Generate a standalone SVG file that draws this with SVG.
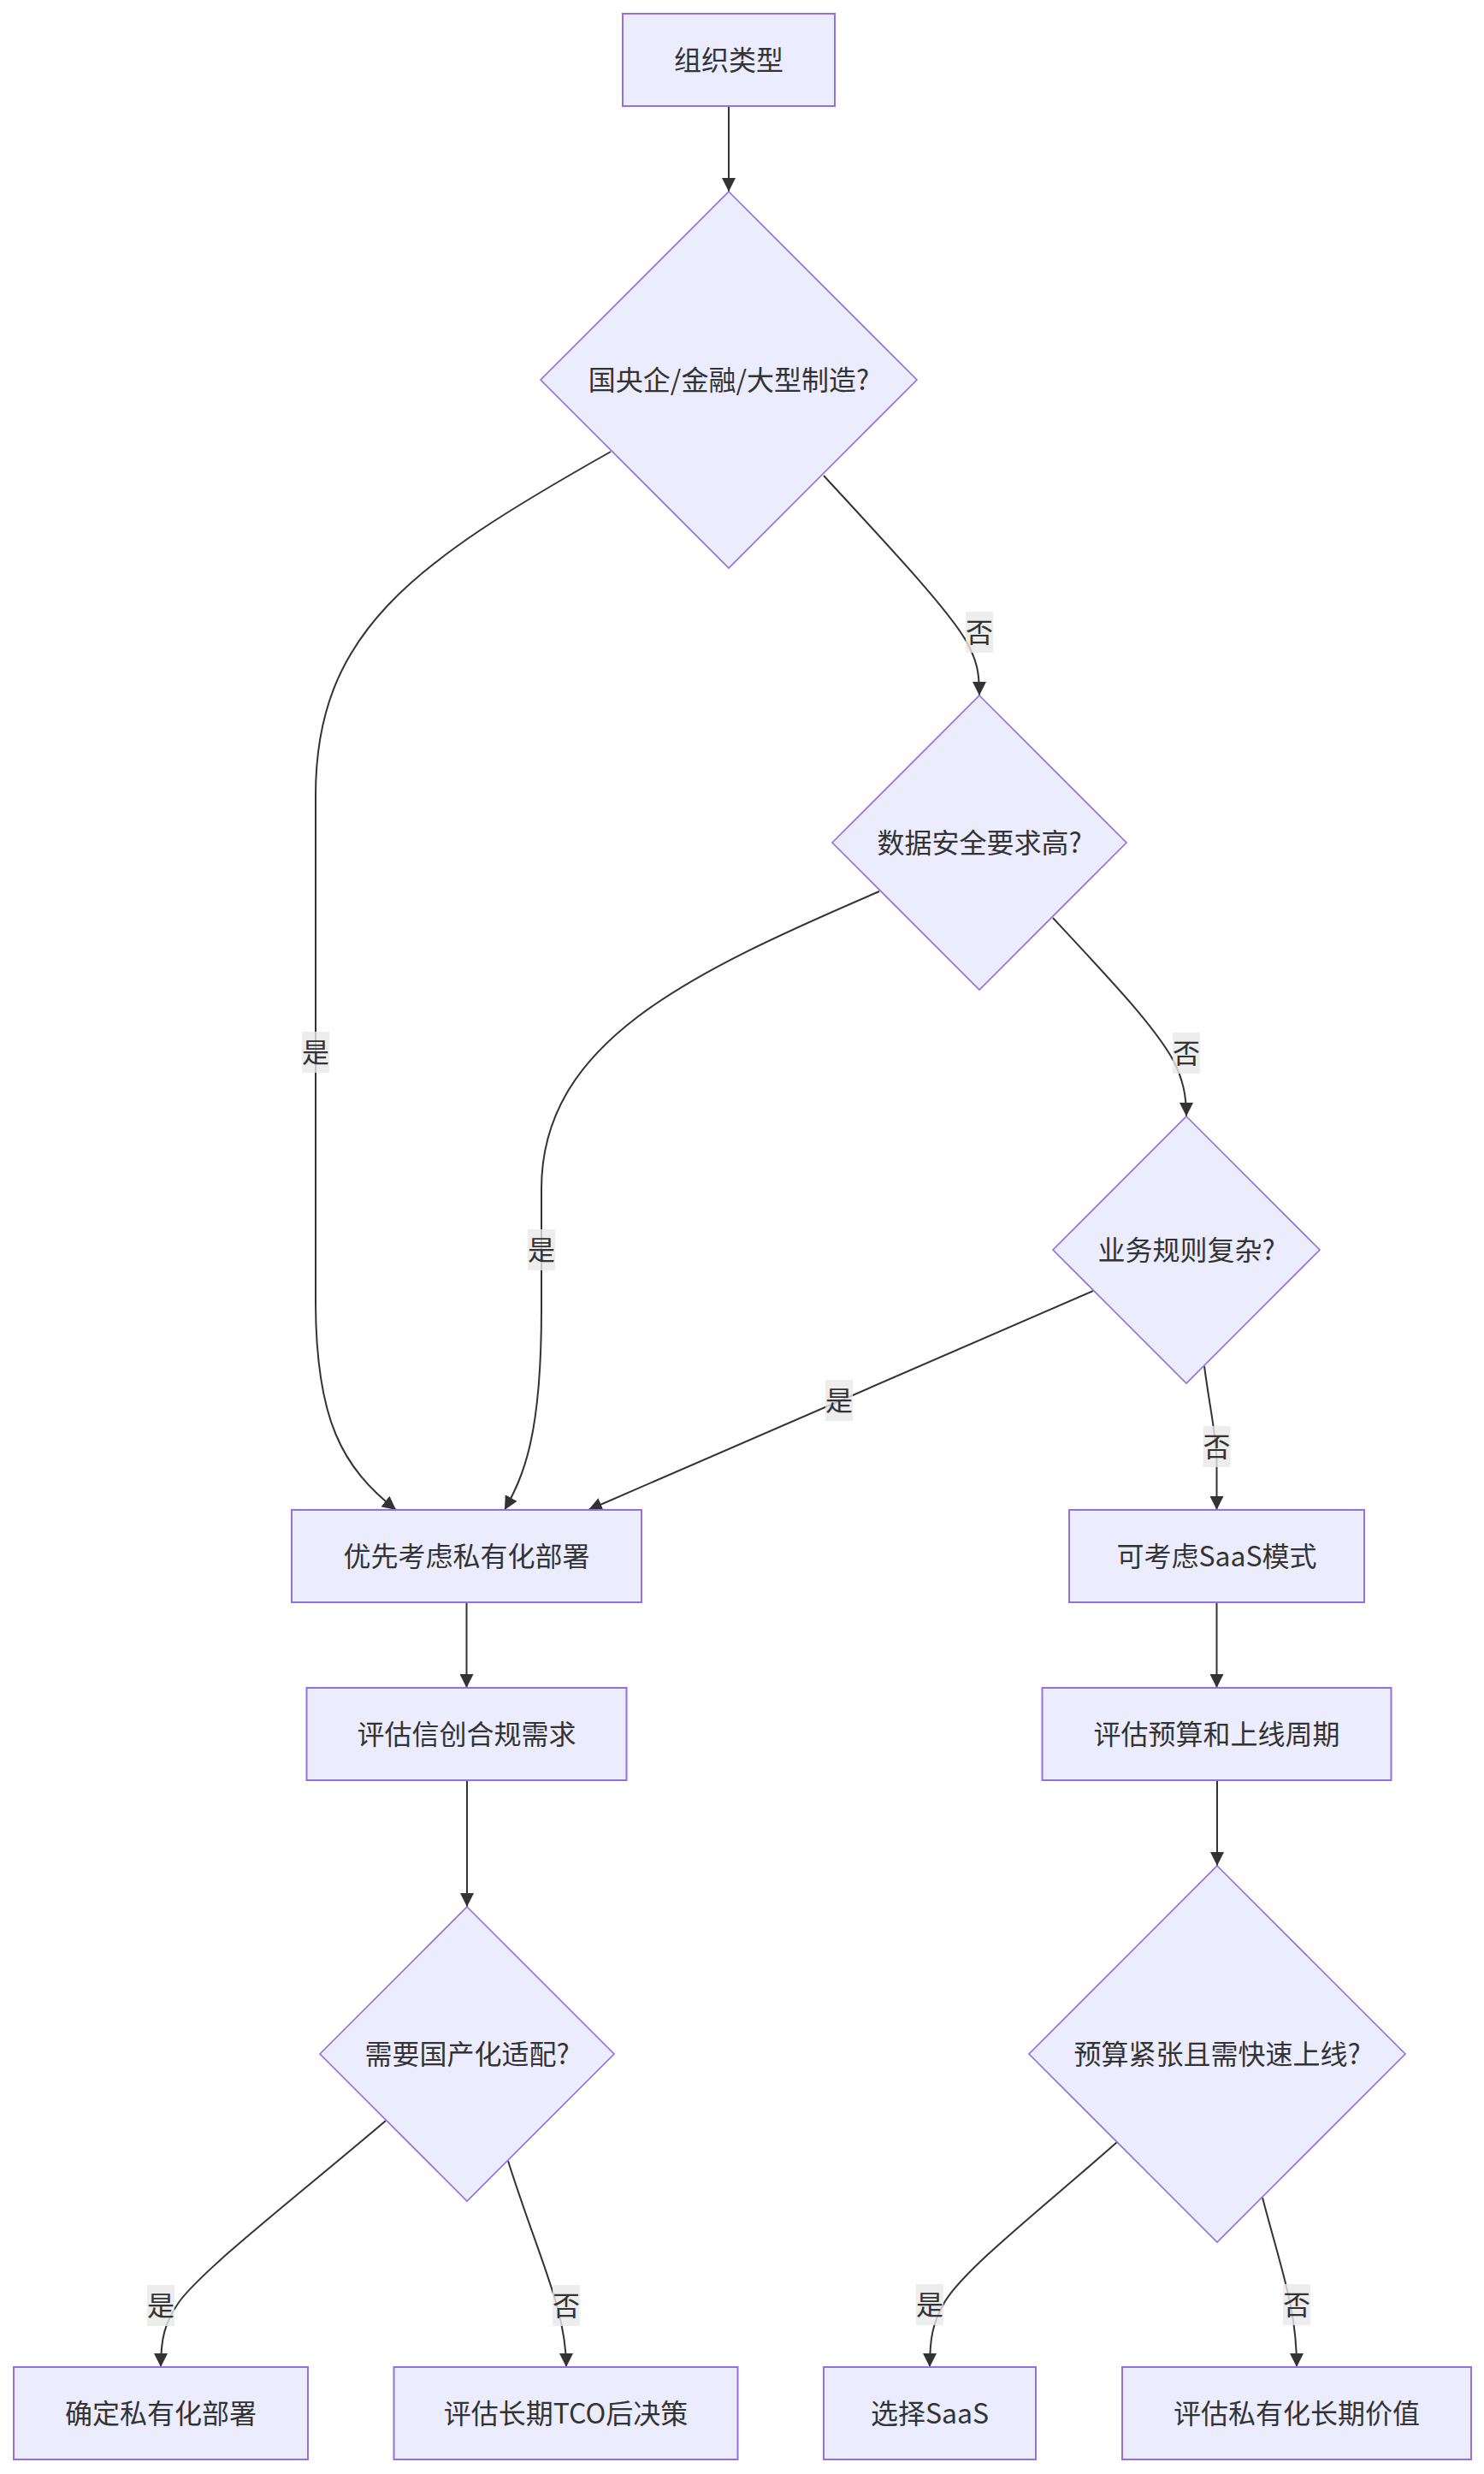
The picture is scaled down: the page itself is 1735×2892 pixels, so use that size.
<svg xmlns="http://www.w3.org/2000/svg" width="1735" height="2892" viewBox="0 0 1735 2892">
<style>
  .node rect, .node polygon { fill: #ECECFF; stroke: #9370DB; }
  .node rect { stroke-width: 2; }
  .node polygon { stroke-width: 1.6; }
  text { font-family: "Noto Sans CJK SC", "Noto Sans", sans-serif; font-size: 32px; fill: #333333; text-anchor: middle; dominant-baseline: central; }
  .edge { fill: none; stroke: #333333; stroke-width: 2; marker-end: url(#arrow); }
  .lbl rect { fill: #e8e8e8; fill-opacity: 0.8; }
</style>
<defs>
  <marker id="arrow" viewBox="0 0 10 10" refX="10" refY="5" markerUnits="userSpaceOnUse" markerWidth="16" markerHeight="16" orient="auto">
    <path d="M0,0 L10,5 L0,10 z" fill="#333333"/>
  </marker>
</defs>
<rect width="1735" height="2892" fill="#ffffff"/>

<g id="edges">
  <path class="edge" d="M852,124 L852,224"/>
  <path class="edge" d="M714,528 C480,660 369,740 369,930 L369,1520 C369,1660 400,1715 463,1765"/>
  <path class="edge" d="M1028,1042 C800,1140 633,1220 633,1390 L633,1530 C633,1680 612,1725 590,1765"/>
  <path class="edge" d="M1278,1509 L688,1765"/>
  <path class="edge" d="M963,556 C1050,650 1110,715 1130,750 C1142,772 1145,785 1145,813"/>
  <path class="edge" d="M1231,1073 C1300,1147 1350,1200 1372,1240 C1383,1262 1387,1280 1387,1305"/>
  <path class="edge" d="M1408,1597 C1415,1650 1422.5,1680 1422.5,1710 L1422.5,1765"/>
  <path class="edge" d="M545.5,1873 L545.5,1973"/>
  <path class="edge" d="M1422.5,1873 L1422.5,1973"/>
  <path class="edge" d="M546,2081 L546,2229"/>
  <path class="edge" d="M1423,2081 L1423,2181"/>
  <path class="edge" d="M451,2479 C350,2565 240,2650 210,2690 C192,2715 188,2735 188,2767"/>
  <path class="edge" d="M594,2526 C630,2640 662,2700 662,2767"/>
  <path class="edge" d="M1306,2504 C1220,2580 1130,2650 1105,2690 C1090,2715 1087,2735 1087,2767"/>
  <path class="edge" d="M1476,2569 C1500,2660 1516,2700 1516,2767"/>

  <g class="lbl"><rect x="353" y="1206" width="32" height="48"/><text x="369" y="1228">是</text></g>
  <g class="lbl"><rect x="617" y="1437" width="32" height="48"/><text x="633" y="1459">是</text></g>
  <g class="lbl"><rect x="965" y="1613" width="32" height="48"/><text x="981" y="1635">是</text></g>
  <g class="lbl"><rect x="1129" y="715" width="32" height="48"/><text x="1145" y="737">否</text></g>
  <g class="lbl"><rect x="1371" y="1207" width="32" height="48"/><text x="1387" y="1229">否</text></g>
  <g class="lbl"><rect x="1406.5" y="1667" width="32" height="48"/><text x="1422.5" y="1689">否</text></g>
  <g class="lbl"><rect x="172" y="2671" width="32" height="48"/><text x="188" y="2693">是</text></g>
  <g class="lbl"><rect x="646" y="2671" width="32" height="48"/><text x="662" y="2693">否</text></g>
  <g class="lbl"><rect x="1071" y="2670" width="32" height="48"/><text x="1087" y="2692">是</text></g>
  <g class="lbl"><rect x="1500" y="2670" width="32" height="48"/><text x="1516" y="2692">否</text></g>
</g>

<g id="n_start" class="node"><rect x="728" y="16" width="248" height="108"/><text x="852" y="68">组织类型</text></g>
<g id="n_q1" class="node"><polygon points="852,224 1072,444 852,664 632,444"/><text x="852" y="442">国央企/金融/大型制造?</text></g>
<g id="n_q2" class="node"><polygon points="1145,813 1317,985 1145,1157 973,985"/><text x="1145" y="983">数据安全要求高?</text></g>
<g id="n_q3" class="node"><polygon points="1387,1305 1543,1461 1387,1617 1231,1461"/><text x="1387" y="1459">业务规则复杂?</text></g>
<g id="n_priv" class="node"><rect x="341" y="1765" width="409" height="108"/><text x="545.5" y="1817">优先考虑私有化部署</text></g>
<g id="n_saas" class="node"><rect x="1250" y="1765" width="345" height="108"/><text x="1422.5" y="1817">可考虑SaaS模式</text></g>
<g id="n_xc" class="node"><rect x="358.5" y="1973" width="374" height="108"/><text x="545.5" y="2025">评估信创合规需求</text></g>
<g id="n_budget" class="node"><rect x="1218.5" y="1973" width="408" height="108"/><text x="1422.5" y="2025">评估预算和上线周期</text></g>
<g id="n_q4" class="node"><polygon points="546,2229 718,2401 546,2573 374,2401"/><text x="546" y="2399">需要国产化适配?</text></g>
<g id="n_q5" class="node"><polygon points="1423,2181 1643,2401 1423,2621 1203,2401"/><text x="1423" y="2399">预算紧张且需快速上线?</text></g>
<g id="n_r1" class="node"><rect x="16" y="2767" width="344" height="108"/><text x="188" y="2819">确定私有化部署</text></g>
<g id="n_r2" class="node"><rect x="460.5" y="2767" width="402" height="108"/><text x="661.5" y="2819">评估长期TCO后决策</text></g>
<g id="n_r3" class="node"><rect x="963" y="2767" width="248" height="108"/><text x="1087" y="2819">选择SaaS</text></g>
<g id="n_r4" class="node"><rect x="1312" y="2767" width="408" height="108"/><text x="1516" y="2819">评估私有化长期价值</text></g>
</svg>
